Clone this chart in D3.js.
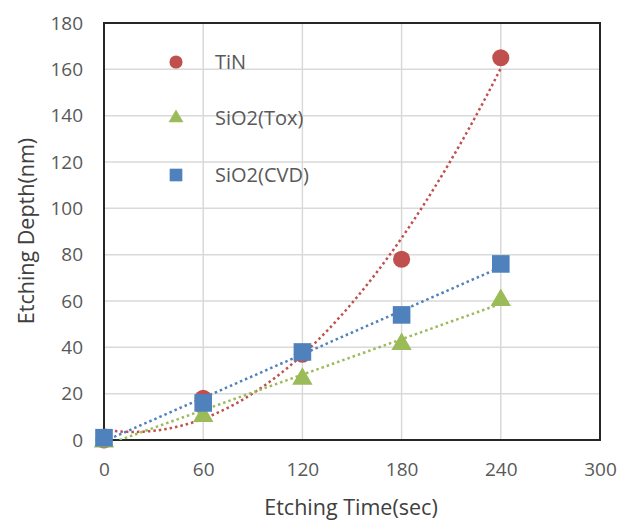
<!DOCTYPE html>
<html>
<head>
<meta charset="utf-8">
<script src="https://cdn.jsdelivr.net/npm/d3@7"></script>
<style>
  body { margin: 0; background: #fff; }
  text { font-family: "Open Sans", "Noto Sans", sans-serif; }
</style>
</head>
<body>
<svg id="chart" width="629" height="521"></svg>
<script>
// etching time (sec)
const times = [0, 60, 120, 180, 240];
const tinDepth = [0, 18, 37, 78, 165];
const toxDepth = [0, 11, 27, 42, 61];
const cvdDepth = [1, 16, 38, 54, 76];
const seriesNames = ['TiN', 'SiO2(Tox)', 'SiO2(CVD)'];
const xTicks = [0, 60, 120, 180, 240, 300];
const yTicks = [0, 20, 40, 60, 80, 100, 120, 140, 160, 180];

const colors = ['#C0504D', '#9BBB59', '#4F81BD'];
const shapes = [d3.symbolCircle, d3.symbolTriangle, d3.symbolSquare];
const trendOrder = [2, 1, 1]; // TiN uses a quadratic trendline, the oxides linear

const series = [tinDepth, toxDepth, cvdDepth].map((vals, i) => ({
    name: seriesNames[i],
    color: colors[i],
    shape: shapes[i],
    order: trendOrder[i],
    points: times.map((t, j) => ({x: t, y: vals[j]}))
}));

const svg = d3.select('#chart');
const plotLeft = 104, plotRight = 600, plotTop = 23, plotBottom = 440;

let x = d3.scaleLinear().domain([0, 300]).range([plotLeft, plotRight]);
let y = d3.scaleLinear().domain([0, 180]).range([plotBottom, plotTop]);

// gridlines
svg.append('g')
    .selectAll('line')
    .data(xTicks.slice(1))
    .join('line')
    .attr('x1', d => x(d)).attr('x2', d => x(d))
    .attr('y1', plotTop).attr('y2', plotBottom)
    .attr('stroke', '#D9D9D9').attr('stroke-width', 1.5);
svg.append('g')
    .selectAll('line')
    .data(yTicks.slice(1))
    .join('line')
    .attr('x1', plotLeft).attr('x2', plotRight)
    .attr('y1', d => y(d)).attr('y2', d => y(d))
    .attr('stroke', '#D9D9D9').attr('stroke-width', 1.5);

// frame
svg.append('rect')
    .attr('x', plotLeft).attr('y', plotTop)
    .attr('width', plotRight - plotLeft).attr('height', plotBottom - plotTop)
    .attr('fill', 'none').attr('stroke', '#262626').attr('stroke-width', 2);

// axes (labels only)
let xaxis = d3.axisBottom(x).tickValues(xTicks).tickSize(0).tickPadding(23);
let yaxis = d3.axisLeft(y).tickValues(yTicks).tickSize(0).tickPadding(21);

let gx = svg.append('g').attr('transform', `translate(0, ${plotBottom})`).call(xaxis);
let gy = svg.append('g').attr('transform', `translate(${plotLeft}, 0)`).call(yaxis);
[gx, gy].forEach(g => {
    g.select('.domain').remove();
    g.selectAll('text')
        .attr('fill', '#595959')
        .style('font-size', '19px')
        .style('font-family', '"Open Sans", sans-serif');
});

// least-squares polynomial fit for the trendlines
function polyFit(pts, order) {
    const n = order + 1;
    const A = [];
    for (let r = 0; r < n; r++) {
        A.push(new Array(n + 1).fill(0));
        for (let c = 0; c < n; c++) {
            A[r][c] = d3.sum(pts, p => Math.pow(p.x, r + c));
        }
        A[r][n] = d3.sum(pts, p => p.y * Math.pow(p.x, r));
    }
    // gaussian elimination
    for (let i = 0; i < n; i++) {
        for (let k = i + 1; k < n; k++) {
            const f = A[k][i] / A[i][i];
            for (let c = i; c <= n; c++) A[k][c] -= f * A[i][c];
        }
    }
    const coef = new Array(n).fill(0);
    for (let i = n - 1; i >= 0; i--) {
        let s = A[i][n];
        for (let c = i + 1; c < n; c++) s -= A[i][c] * coef[c];
        coef[i] = s / A[i][i];
    }
    return xv => coef.reduce((acc, c, i) => acc + c * Math.pow(xv, i), 0);
}

svg.append('clipPath').attr('id', 'plotClip')
    .append('rect')
    .attr('x', plotLeft).attr('y', plotTop)
    .attr('width', plotRight - plotLeft).attr('height', plotBottom - plotTop);

let line = d3.line().x(d => x(d.x)).y(d => y(d.y));

series.forEach(s => {
    const f = polyFit(s.points, s.order);
    const xs = d3.range(0, 240.01, 2);
    svg.append('path')
        .datum(xs.map(v => ({x: v, y: f(v)})))
        .attr('d', line)
        .attr('clip-path', 'url(#plotClip)')
        .attr('fill', 'none')
        .attr('stroke', s.color)
        .attr('stroke-width', 2.5)
        .attr('stroke-dasharray', '2.5,3');
});

// markers (drawn red, green, blue so blue sits on top)
const sizes = [230, 180, 310];
series.forEach((s, i) => {
    svg.append('g')
        .selectAll('path')
        .data(s.points)
        .join('path')
        .attr('transform', d => `translate(${x(d.x)}, ${y(d.y) + (i == 1 ? 1.5 : 0)})`)
        .attr('d', d3.symbol().type(s.shape).size(sizes[i]))
        .attr('fill', s.color);
});

// legend
const legY = [62, 118, 175];
const legSizes = [135, 95, 160];
series.forEach((s, i) => {
    svg.append('path')
        .attr('transform', `translate(176, ${legY[i]})`)
        .attr('d', d3.symbol().type(s.shape).size(legSizes[i]))
        .attr('fill', s.color);
    svg.append('text')
        .attr('x', 215).attr('y', legY[i] + 7)
        .attr('fill', '#595959')
        .style('font-size', '20px')
        .text(s.name);
});

// axis titles
svg.append('text')
    .attr('x', 351).attr('y', 515)
    .attr('text-anchor', 'middle')
    .attr('fill', '#404040')
    .style('font-size', '21.5px')
    .style('font-weight', '500')
    .text('Etching Time(sec)');
svg.append('text')
    .attr('transform', `translate(34, 231) rotate(-90)`)
    .attr('text-anchor', 'middle')
    .attr('fill', '#404040')
    .style('font-size', '21.5px')
    .style('font-weight', '500')
    .text('Etching Depth(nm)');
</script>
</body>
</html>
